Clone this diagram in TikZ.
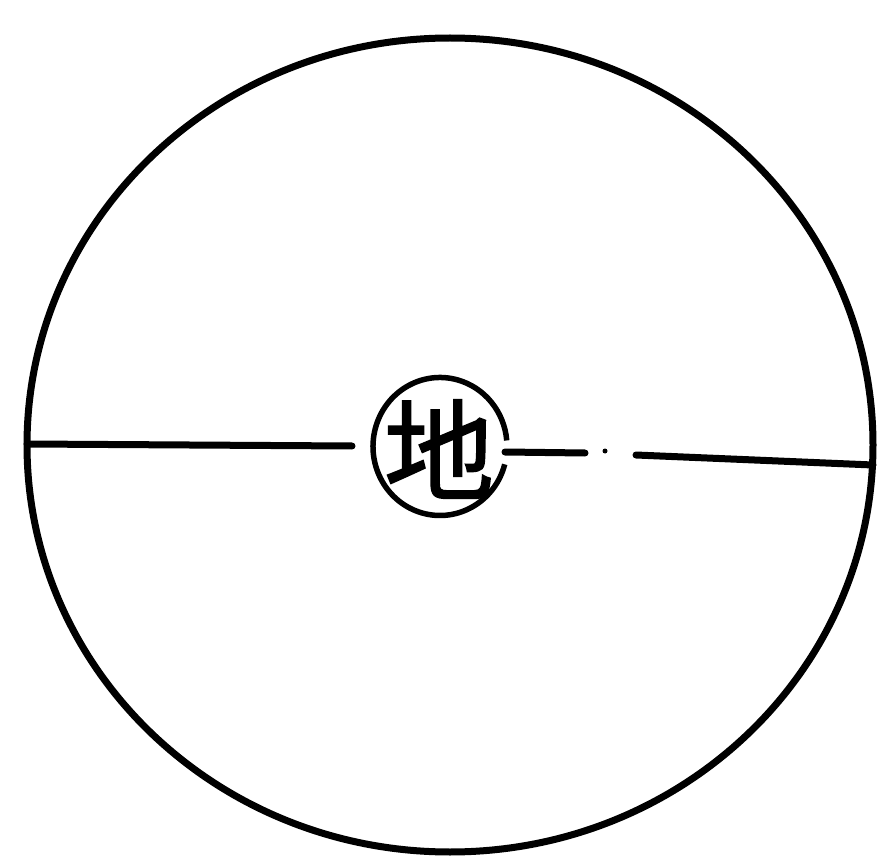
\documentclass[tikz,border=0pt]{standalone}
\usepackage{fontspec}
\newfontfamily\cjk{Noto Sans CJK SC}[FakeBold=1.5]
\usetikzlibrary{shapes.geometric}
\tikzset{thick line/.style={line width=7pt, line cap=round}}
\begin{document}
\begin{tikzpicture}[x=1pt,y=-1pt]
\useasboundingbox (0,0) rectangle (887,861);
% big circle
\node[draw, ellipse, line width=7pt, minimum width=846pt, minimum height=814pt, inner sep=0pt] (earth) at (450,445) {};
% small circle with character
\node (di) at (439,449) {\cjk\fontsize{110}{110}\selectfont 地};
\coordinate (dc) at (440,447);
\draw[line width=5.5pt] (dc) ++(15:67) arc[start angle=15, end angle=355, x radius=67, y radius=69];
% horizontal line
\coordinate (L0) at (27,444);
\coordinate (L1) at (352,446);
\coordinate (R0) at (505,452);
\coordinate (R1) at (585,453);
\coordinate (R2) at (636,455);
\coordinate (R3) at (873,465);
\draw[thick line] (L0) -- (L1);
\draw[thick line] (R0) -- (R1);
\fill (605,451) circle (2.5pt);
\draw[thick line] (R2) -- (R3);
\end{tikzpicture}
\end{document}
